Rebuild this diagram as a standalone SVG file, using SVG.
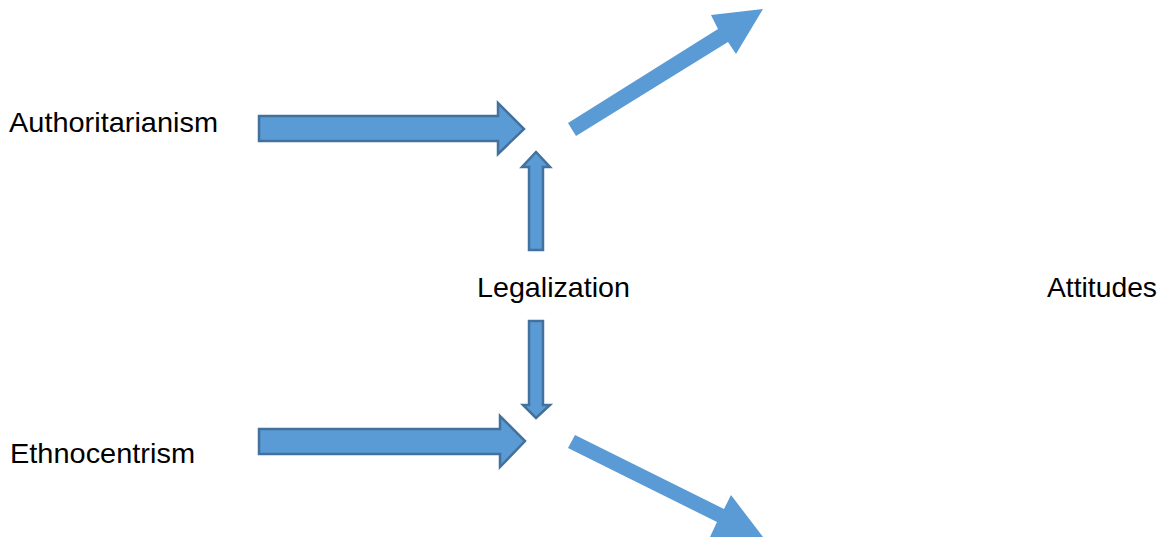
<svg xmlns="http://www.w3.org/2000/svg" width="1167" height="537" viewBox="0 0 1167 537">
<style>
.lbl{font-family:"Liberation Sans",Arial,sans-serif;font-size:28.5px;fill:#000}
.blk{fill:#5B9BD5;stroke:#41719C;stroke-width:2.5;stroke-linejoin:miter}
.flat{fill:#5B9BD5;stroke:none}
</style>
<rect width="1167" height="537" fill="#fff"/>
<g id="authoritarianism"><text class="lbl" x="9" y="132" textLength="209" lengthAdjust="spacingAndGlyphs">Authoritarianism</text></g>
<g id="legalization"><text class="lbl" x="477" y="297" textLength="153" lengthAdjust="spacingAndGlyphs">Legalization</text></g>
<g id="attitudes"><text class="lbl" x="1047" y="297" textLength="110" lengthAdjust="spacingAndGlyphs">Attitudes</text></g>
<g id="ethnocentrism"><text class="lbl" x="10" y="463" textLength="185" lengthAdjust="spacingAndGlyphs">Ethnocentrism</text></g>
<g id="connectors">
<polygon class="blk" points="259,116 498,116 498,103 524,129 498,154 498,141 259,141"/>
<polygon class="blk" points="259,429 500,429 500,416 525,441 500,467 500,454 259,454"/>
<polygon class="blk" points="529,250 529,167 522,167 536,152 550,167 543,167 543,250"/>
<polygon class="blk" points="529,321 529,405 523,405 536,418 550,405 543,405 543,321"/>
<polygon class="flat" points="568,123 718,29 711,15 763,9 736,54 728,42 576,136"/>
<polygon class="flat" points="575,435 724,509 731,495 763,537 710,537 717,522 568,448"/>
</g>
</svg>
